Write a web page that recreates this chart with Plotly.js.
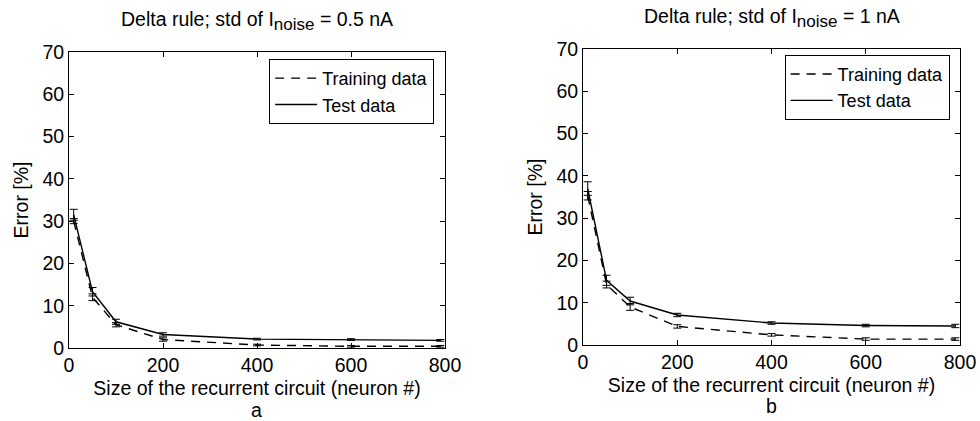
<!DOCTYPE html>
<html>
<head>
<meta charset="utf-8">
<script src="https://cdn.plot.ly/plotly-3.0.1.min.js"></script>
<style>html,body{margin:0;padding:0;background:#fff;}#chart{width:980px;height:421px;}</style>
</head>
<body>
<div id="chart"></div>
<script>
// Data
const sizes = [10, 50, 100, 200, 400, 600, 790];
// Panel a: std of I_noise = 0.5 nA
const trainA = [30.0, 12.0, 5.5, 2.0, 0.7, 0.4, 0.4];
const trainAErr = [0.6, 0.8, 0.5, 0.4, 0.2, 0.2, 0.2];
const testA = [31.5, 13.3, 6.2, 3.2, 2.1, 2.0, 1.8];
const testAErr = [1.3, 1.0, 0.6, 0.4, 0.2, 0.2, 0.2];
// Panel b: std of I_noise = 1 nA
const trainB = [35.3, 14.3, 9.0, 4.4, 2.4, 1.4, 1.4];
const trainBErr = [1.0, 0.8, 0.8, 0.4, 0.3, 0.3, 0.3];
const testB = [37.0, 15.3, 10.4, 7.1, 5.2, 4.6, 4.5];
const testBErr = [1.6, 1.2, 0.9, 0.4, 0.3, 0.3, 0.4];
const titleA = 'Delta rule; std of I<sub><span style="font-size:17px">noise</span></sub> = 0.5 nA';
const titleB = 'Delta rule; std of I<sub><span style="font-size:17px">noise</span></sub> = 1 nA';
const xTitle = 'Size of the recurrent circuit (neuron #)';
const yTitle = 'Error [%]';
const panelLabels = ['a', 'b'];
const seriesNames = ['Training data', 'Test data'];

const FONT = 'Liberation Sans, Arial, Helvetica, sans-serif';
const FS = 19.5;
function tr(x, y, err, name, dash, xa, ya, leg) {
  return {
    x: x, y: y, type: 'scatter', mode: 'lines', name: name,
    xaxis: xa, yaxis: ya, legend: leg,
    line: {color: '#000', width: 1.4, dash: dash},
    error_y: {type: 'data', array: err, visible: true, color: '#000', thickness: 1, width: 4}
  };
}
const dashStyle = '9px,7px';
const data = [
  tr(sizes, trainA, trainAErr, seriesNames[0], dashStyle, 'x', 'y', 'legend'),
  tr(sizes, testA, testAErr, seriesNames[1], 'solid', 'x', 'y', 'legend'),
  tr(sizes, trainB, trainBErr, seriesNames[0], dashStyle, 'x2', 'y2', 'legend2'),
  tr(sizes, testB, testBErr, seriesNames[1], 'solid', 'x2', 'y2', 'legend2')
];
function xaxisDef(dom, anchor) {
  return {
    domain: dom, anchor: anchor, range: [0, 800], dtick: 200, tick0: 0,
    ticks: 'inside', ticklen: 5, tickcolor: '#000', mirror: 'ticks',
    showline: true, linecolor: '#000', linewidth: 1, showgrid: false, zeroline: false,
    tickfont: {family: FONT, size: FS, color: '#000'},
    title: {text: xTitle, font: {family: FONT, size: FS, color: '#000'}, standoff: 5}
  };
}
function yaxisDef(dom, anchor) {
  return {
    domain: dom, anchor: anchor, range: [0, 70], dtick: 10, tick0: 0,
    ticks: 'inside', ticklen: 5, tickcolor: '#000', mirror: 'ticks',
    showline: true, linecolor: '#000', linewidth: 1, showgrid: false, zeroline: false,
    tickfont: {family: FONT, size: FS, color: '#000'},
    title: {text: yTitle, font: {family: FONT, size: FS, color: '#000'}, standoff: 8}
  };
}
const legBase = {
  bordercolor: '#000', borderwidth: 1, bgcolor: '#fff',
  font: {family: FONT, size: 18, color: '#000'},
  xanchor: 'right', yanchor: 'top', tracegroupgap: 0, itemwidth: 42
};
const layout = {
  width: 980, height: 421,
  margin: {l: 0, r: 0, t: 0, b: 0},
  paper_bgcolor: '#fff', plot_bgcolor: '#fff',
  showlegend: true,
  xaxis: xaxisDef([0.0704, 0.4541], 'y'),
  yaxis: yaxisDef([0.1734, 0.8765], 'x'),
  xaxis2: xaxisDef([0.5949, 0.9796], 'y2'),
  yaxis2: yaxisDef([0.1805, 0.8836], 'x2'),
  legend: Object.assign({}, legBase, {x: 0.443, y: 0.86}),
  legend2: Object.assign({}, legBase, {x: 0.969, y: 0.87}),
  annotations: [
    {text: titleA, xref: 'paper', yref: 'paper', x: 0.262, y: 0.95, xanchor: 'center', yanchor: 'middle', showarrow: false, font: {family: FONT, size: FS, color: '#000'}},
    {text: titleB, xref: 'paper', yref: 'paper', x: 0.788, y: 0.957, xanchor: 'center', yanchor: 'middle', showarrow: false, font: {family: FONT, size: FS, color: '#000'}},
    {text: panelLabels[0], xref: 'paper', yref: 'paper', x: 0.262, y: 0.027, xanchor: 'center', yanchor: 'middle', showarrow: false, font: {family: FONT, size: FS, color: '#000'}},
    {text: panelLabels[1], xref: 'paper', yref: 'paper', x: 0.787, y: 0.035, xanchor: 'center', yanchor: 'middle', showarrow: false, font: {family: FONT, size: FS, color: '#000'}}
  ]
};
Plotly.newPlot('chart', data, layout, {displayModeBar: false, staticPlot: true});
</script>
</body>
</html>
